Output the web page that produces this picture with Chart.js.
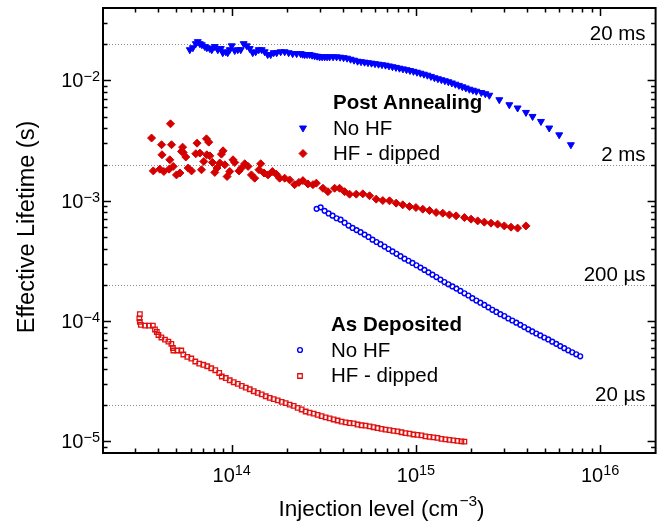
<!DOCTYPE html>
<html><head><meta charset="utf-8">
<script src="https://cdn.jsdelivr.net/npm/chart.js@4/dist/chart.umd.min.js"></script>
<style>html,body{margin:0;padding:0;background:#fff;}#wrap{width:661px;height:528px;}</style>
</head><body><div id="wrap"><canvas id="c" width="661" height="528"></canvas></div>
<script>
const FONT = "'Liberation Sans', Arial, sans-serif";

// Post Annealing - No HF (filled blue down-triangles)
const paNoHfX = [
  5.92e13, 6.15e13, 6.38e13, 6.54e13, 6.71e13, 6.88e13, 7.14e13, 7.32e13, 7.60e13, 7.79e13,
  8.09e13, 8.40e13, 8.72e13, 8.94e13, 9.28e13, 9.51e13, 9.75e13,
  1.00e14, 1.038e14, 1.078e14, 1.119e14, 1.161e14, 1.206e14, 1.252e14, 1.300e14, 1.349e14, 1.401e14,
  1.454e14, 1.510e14, 1.567e14, 1.627e14, 1.689e14, 1.754e14, 1.843e14, 1.938e14,
  2.037e14, 2.141e14, 2.251e14, 2.366e14, 2.426e14, 2.487e14, 2.566e14, 2.647e14, 2.731e14, 2.818e14,
  2.907e14, 2.999e14, 3.094e14, 3.192e14, 3.293e14, 3.398e14,
  3.550e14, 3.708e14, 3.874e14, 4.046e14, 4.227e14, 4.416e14, 4.613e14, 4.819e14, 5.034e14, 5.259e14,
  5.493e14, 5.738e14, 5.995e14, 6.262e14, 6.542e14, 6.835e14, 7.140e14, 7.458e14, 7.791e14, 8.140e14,
  8.503e14, 8.883e14, 9.280e14, 9.692e14,
  1.013e15, 1.058e15, 1.105e15, 1.154e15, 1.206e15, 1.260e15, 1.316e15, 1.375e15, 1.436e15, 1.500e15,
  1.567e15, 1.637e15, 1.711e15, 1.786e15, 1.866e15, 1.950e15, 2.037e15, 2.128e15,
  2.265e15, 2.381e15, 2.502e15, 2.835e15, 3.212e15, 3.563e15, 3.957e15, 4.297e15, 4.771e15, 5.291e15,
  5.994e15, 6.937e15
];
const paNoHfY = [
  0.0180, 0.0187, 0.0202, 0.0210, 0.0202, 0.0198, 0.0191, 0.0187, 0.0184, 0.0180,
  0.0191, 0.0180, 0.0184, 0.0170, 0.0173, 0.0170, 0.0180,
  0.0194, 0.0177, 0.0180, 0.0180, 0.0202, 0.0194, 0.0184, 0.0170, 0.0173, 0.0180,
  0.0180, 0.0173, 0.0164, 0.0164, 0.0170, 0.0170, 0.0173, 0.0173,
  0.0170, 0.0167, 0.0167, 0.0167, 0.0165, 0.0164, 0.0164, 0.0164, 0.0162, 0.0160,
  0.0159, 0.0157, 0.0157, 0.0157, 0.0157, 0.0157,
  0.0157, 0.0157, 0.0156, 0.01545, 0.0153, 0.0150, 0.01473, 0.01445, 0.01431, 0.01418,
  0.01404, 0.01391, 0.01377, 0.01364, 0.01351, 0.01338, 0.01320, 0.01300, 0.01283, 0.01264,
  0.01247, 0.01228, 0.01209, 0.01190,
  0.01170, 0.01148, 0.01126, 0.01105, 0.01080, 0.01053, 0.01033, 0.01013, 0.00994, 0.00975,
  0.00953, 0.00930, 0.00909, 0.00886, 0.00866, 0.00845, 0.00829, 0.00813,
  0.00793, 0.00775, 0.00753, 0.00691, 0.00628, 0.00590, 0.00542, 0.00502, 0.00456, 0.00402,
  0.00353, 0.00292
];

// Post Annealing - HF dipped (filled red diamonds)
const paHfX = [
  3.67e13, 3.75e13, 4.07e13, 4.16e13, 4.18e13, 4.28e13, 4.57e13, 4.61e13, 4.65e13, 4.71e13,
  4.81e13, 5.01e13, 5.23e13, 5.34e13, 5.41e13, 5.45e13, 5.63e13, 5.80e13, 6.05e13, 6.38e13,
  6.48e13, 6.71e13, 6.85e13, 7.05e13, 7.29e13, 7.32e13, 7.50e13, 7.60e13, 7.86e13, 8.09e13,
  8.32e13, 8.61e13, 8.79e13, 8.97e13, 9.17e13, 9.43e13, 9.75e13, 1.016e14, 1.038e14, 1.095e14,
  1.129e14, 1.176e14, 1.226e14, 1.279e14, 1.332e14, 1.406e14, 1.436e14, 1.497e14, 1.573e14, 1.662e14,
  1.747e14, 1.820e14, 1.938e14, 2.062e14, 2.195e14, 2.316e14, 2.434e14, 2.592e14, 2.759e14, 2.878e14,
  3.126e14, 3.327e14, 3.617e14, 3.849e14, 4.098e14, 4.361e14, 4.743e14, 5.149e14, 5.598e14, 6.085e14,
  6.608e14, 7.185e14, 7.810e14, 8.480e14, 9.220e14, 1.000e15, 1.089e15, 1.184e15, 1.287e15, 1.398e15,
  1.519e15, 1.652e15, 1.832e15, 1.992e15, 2.163e15, 2.351e15, 2.556e15, 2.776e15, 3.018e15, 3.281e15,
  3.563e15, 3.957e15
];
const paHfY = [
  3.32e-3, 1.77e-3, 1.83e-3, 2.92e-3, 2.41e-3, 1.75e-3, 1.83e-3, 2.19e-3, 4.36e-3, 2.92e-3,
  1.93e-3, 1.64e-3, 1.70e-3, 2.57e-3, 2.79e-3, 2.52e-3, 2.31e-3, 1.87e-3, 1.77e-3, 2.46e-3,
  3.01e-3, 2.49e-3, 1.81e-3, 2.12e-3, 3.27e-3, 2.41e-3, 3.07e-3, 2.36e-3, 2.08e-3, 1.72e-3,
  1.87e-3, 2.06e-3, 2.44e-3, 2.60e-3, 1.99e-3, 1.59e-3, 1.75e-3, 2.19e-3, 2.08e-3, 1.77e-3,
  1.87e-3, 2.03e-3, 1.93e-3, 1.64e-3, 1.54e-3, 1.81e-3, 2.03e-3, 1.70e-3, 1.64e-3, 1.75e-3,
  1.66e-3, 1.54e-3, 1.54e-3, 1.49e-3, 1.36e-3, 1.42e-3, 1.47e-3, 1.38e-3, 1.36e-3, 1.40e-3,
  1.27e-3, 1.19e-3, 1.27e-3, 1.27e-3, 1.19e-3, 1.134e-3, 1.134e-3, 1.141e-3, 1.10e-3, 1.031e-3,
  1.004e-3, 9.98e-4, 9.55e-4, 9.25e-4, 8.95e-4, 8.78e-4, 8.51e-4, 8.29e-4, 7.98e-4, 7.88e-4,
  7.63e-4, 7.49e-4, 7.25e-4, 7.03e-4, 6.80e-4, 6.64e-4, 6.51e-4, 6.39e-4, 6.18e-4, 6.03e-4,
  5.92e-4, 6.18e-4
];

// As Deposited - No HF (open blue circles)
const adNoHfX = [
  2.889e14, 3.037e14, 3.192e14, 3.356e14, 3.527e14, 3.708e14, 3.898e14, 4.098e14, 4.306e14, 4.527e14,
  4.759e14, 5.003e14, 5.259e14, 5.527e14, 5.810e14, 6.108e14, 6.421e14, 6.750e14, 7.094e14, 7.458e14,
  7.840e14, 8.241e14, 8.664e14, 9.107e14, 9.572e14, 1.006e15, 1.058e15, 1.112e15, 1.169e15, 1.229e15,
  1.291e15, 1.358e15, 1.427e15, 1.500e15, 1.577e15, 1.658e15, 1.743e15, 1.832e15, 1.926e15, 2.024e15,
  2.128e15, 2.237e15, 2.351e15, 2.472e15, 2.598e15, 2.731e15, 2.871e15, 3.018e15, 3.172e15, 3.334e15,
  3.505e15, 3.685e15, 3.873e15, 4.072e15, 4.280e15, 4.499e15, 4.730e15, 4.972e15, 5.226e15, 5.494e15,
  5.775e15, 6.071e15, 6.382e15, 6.708e15, 7.052e15, 7.413e15, 7.792e15
];
const adNoHfY = [
  8.56e-4, 8.81e-4, 8.24e-4, 7.84e-4, 7.52e-4, 7.15e-4, 6.96e-4, 6.57e-4, 6.22e-4, 5.94e-4,
  5.70e-4, 5.48e-4, 5.23e-4, 5.00e-4, 4.75e-4, 4.54e-4, 4.35e-4, 4.16e-4, 3.97e-4, 3.79e-4,
  3.62e-4, 3.46e-4, 3.30e-4, 3.17e-4, 3.04e-4, 2.91e-4, 2.78e-4, 2.66e-4, 2.54e-4, 2.43e-4,
  2.32e-4, 2.21e-4, 2.11e-4, 2.02e-4, 1.94e-4, 1.86e-4, 1.78e-4, 1.70e-4, 1.63e-4, 1.55e-4,
  1.48e-4, 1.42e-4, 1.36e-4, 1.30e-4, 1.24e-4, 1.19e-4, 1.14e-4, 1.10e-4, 1.05e-4, 1.01e-4,
  9.70e-5, 9.30e-5, 8.91e-5, 8.53e-5, 8.19e-5, 7.88e-5, 7.59e-5, 7.30e-5, 7.03e-5, 6.74e-5,
  6.46e-5, 6.19e-5, 5.95e-5, 5.71e-5, 5.50e-5, 5.29e-5, 5.09e-5
];

// As Deposited - HF dipped (open red squares)
const adHfX = [
  3.17e13, 3.15e13, 3.17e13, 3.21e13, 3.38e13, 3.55e13, 3.73e13, 3.83e13, 3.92e13, 4.00e13,
  4.15e13, 4.34e13, 4.53e13, 4.70e13, 4.79e13, 4.82e13, 5.07e13, 5.32e13, 5.46e13, 5.74e13,
  6.03e13, 6.34e13, 6.66e13, 7.01e13, 7.36e13, 7.74e13, 8.14e13, 8.55e13, 8.83e13, 9.28e13,
  9.75e13, 1.025e14, 1.078e14, 1.133e14, 1.191e14, 1.252e14, 1.316e14, 1.383e14, 1.454e14, 1.529e14,
  1.607e14, 1.689e14, 1.776e14, 1.866e14, 1.962e14, 2.062e14, 2.168e14, 2.279e14, 2.396e14, 2.518e14,
  2.647e14, 2.783e14, 2.925e14, 3.075e14, 3.232e14, 3.398e14, 3.572e14, 3.755e14, 3.947e14, 4.149e14,
  4.361e14, 4.585e14, 4.819e14, 5.066e14, 5.326e14, 5.598e14, 5.885e14, 6.186e14, 6.502e14, 6.835e14,
  7.185e14, 7.551e14, 7.938e14, 8.345e14, 8.772e14, 9.222e14, 9.692e14, 1.019e15, 1.071e15, 1.126e15,
  1.184e15, 1.244e15, 1.308e15, 1.375e15, 1.445e15, 1.519e15, 1.597e15, 1.679e15, 1.765e15, 1.832e15
];
const adHfY = [
  1.139e-4, 1.051e-4, 9.83e-5, 9.28e-5, 9.16e-5, 9.16e-5, 9.16e-5, 8.51e-5, 8.11e-5, 7.66e-5,
  7.30e-5, 7.00e-5, 6.74e-5, 6.45e-5, 5.97e-5, 5.69e-5, 5.69e-5, 5.69e-5, 5.27e-5, 5.03e-5,
  4.88e-5, 4.61e-5, 4.42e-5, 4.33e-5, 4.21e-5, 4.05e-5, 3.90e-5, 3.70e-5, 3.46e-5, 3.36e-5,
  3.22e-5, 3.10e-5, 3.00e-5, 2.89e-5, 2.80e-5, 2.71e-5, 2.61e-5, 2.53e-5, 2.46e-5, 2.37e-5,
  2.30e-5, 2.24e-5, 2.19e-5, 2.13e-5, 2.08e-5, 2.02e-5, 1.97e-5, 1.90e-5, 1.84e-5, 1.77e-5,
  1.73e-5, 1.70e-5, 1.66e-5, 1.62e-5, 1.58e-5, 1.55e-5, 1.52e-5, 1.49e-5, 1.46e-5, 1.44e-5,
  1.42e-5, 1.41e-5, 1.38e-5, 1.36e-5, 1.35e-5, 1.33e-5, 1.31e-5, 1.29e-5, 1.27e-5, 1.25e-5,
  1.24e-5, 1.22e-5, 1.21e-5, 1.19e-5, 1.17e-5, 1.16e-5, 1.14e-5, 1.13e-5, 1.12e-5, 1.10e-5,
  1.09e-5, 1.08e-5, 1.07e-5, 1.05e-5, 1.04e-5, 1.03e-5, 1.02e-5, 1.01e-5, 1.00e-5, 9.94e-6
];

const xMajorTicks = [1e14, 1e15, 1e16];
const xTickExp = ['14', '15', '16'];
const yMajorTicks = [1e-2, 1e-3, 1e-4, 1e-5];
const yTickExp = ['\u22122', '\u22123', '\u22124', '\u22125'];
const refLines = [2e-2, 2e-3, 2e-4, 2e-5];
const refLabels = ['20 ms', '2 ms', '200 \u00B5s', '20 \u00B5s'];

const BLUE = '#0000FF', RED = '#D40000', RED2 = '#E01010';

function zip(xs, ys) { return xs.map((x, i) => ({ x: x, y: ys[i] })); }

function supText(ctx, base, sup, x, y, align, bs, ss, rise) {
  ctx.font = bs + 'px ' + FONT; const wb = ctx.measureText(base).width;
  ctx.font = ss + 'px ' + FONT; const ws = ctx.measureText(sup).width;
  let x0 = align === 'right' ? x - wb - ws : (align === 'center' ? x - (wb + ws) / 2 : x);
  ctx.textAlign = 'left'; ctx.textBaseline = 'alphabetic';
  ctx.font = bs + 'px ' + FONT; ctx.fillText(base, x0, y);
  ctx.font = ss + 'px ' + FONT; ctx.fillText(sup, x0 + wb, y - rise);
  return x0 + wb + ws;
}

function marker(ctx, style, x, y, r, fill, stroke, rot, bw) {
  ctx.save();
  ctx.fillStyle = fill; ctx.strokeStyle = stroke; ctx.lineWidth = bw;
  Chart.helpers.drawPoint(ctx, { pointStyle: style, radius: r, rotation: rot || 0, borderWidth: bw }, x, y);
  ctx.restore();
}

const overlay = {
  id: 'overlay',
  beforeDatasetsDraw(chart) {
    const { ctx, chartArea: a, scales: { y: ys } } = chart;
    ctx.save();
    ctx.strokeStyle = '#8a8a8a'; ctx.lineWidth = 1; ctx.setLineDash([1, 2]);
    refLines.forEach(v => {
      const py = Math.round(ys.getPixelForValue(v)) + 0.5;
      ctx.beginPath(); ctx.moveTo(a.left, py); ctx.lineTo(a.right, py); ctx.stroke();
    });
    ctx.setLineDash([]);
    ctx.fillStyle = '#000'; ctx.font = '20.5px ' + FONT; ctx.textAlign = 'right'; ctx.textBaseline = 'alphabetic';
    refLines.forEach((v, i) => {
      const py = ys.getPixelForValue(v);
      ctx.fillText(refLabels[i], a.right - 10, py - 4);
    });
    ctx.restore();
  },
  afterDatasetsDraw(chart) {
    const { ctx, chartArea: a, scales: { x: xs, y: ys } } = chart;
    ctx.save();
    // frame
    ctx.strokeStyle = '#000'; ctx.lineWidth = 2;
    ctx.strokeRect(a.left, a.top, a.right - a.left, a.bottom - a.top);
    // ticks (inward)
    ctx.lineWidth = 1.5;
    for (let d = 1e13; d <= 1e16; d *= 10) {
      for (let m = 1; m <= 9; m++) {
        const v = m * d;
        if (v < xs.min * 1.0001 || v > xs.max * 0.9999) continue;
        const px = Math.round(xs.getPixelForValue(v)) + 0.5;
        const len = m === 1 ? 8 : 4.5;
        ctx.beginPath();
        ctx.moveTo(px, a.bottom); ctx.lineTo(px, a.bottom - len);
        ctx.moveTo(px, a.top); ctx.lineTo(px, a.top + len);
        ctx.stroke();
      }
    }
    for (let d = 1e-6; d <= 1e-2 * 1.001; d *= 10) {
      for (let m = 1; m <= 9; m++) {
        const v = m * d;
        if (v < ys.min * 1.0001 || v > ys.max * 0.9999) continue;
        const py = Math.round(ys.getPixelForValue(v)) + 0.5;
        const len = m === 1 ? 8 : 4.5;
        ctx.beginPath();
        ctx.moveTo(a.left, py); ctx.lineTo(a.left + len, py);
        ctx.moveTo(a.right, py); ctx.lineTo(a.right - len, py);
        ctx.stroke();
      }
    }
    // tick labels
    ctx.fillStyle = '#000';
    xMajorTicks.forEach((v, i) => {
      const px = xs.getPixelForValue(v);
      supText(ctx, '10', xTickExp[i], px, 482, 'center', 20, 14.5, 7.5);
    });
    yMajorTicks.forEach((v, i) => {
      const py = ys.getPixelForValue(v);
      supText(ctx, '10', yTickExp[i], 100, py + 7, 'right', 20, 14.5, 6);
    });
    // axis titles
    const t1 = 'Injection level (cm', t2 = '\u22123', t3 = ')';
    ctx.font = '22.5px ' + FONT; const w1 = ctx.measureText(t1).width, w3 = ctx.measureText(t3).width;
    ctx.font = '15.5px ' + FONT; const w2 = ctx.measureText(t2).width;
    let x0 = 381 - (w1 + w2 + w3) / 2;
    ctx.textAlign = 'left'; ctx.textBaseline = 'alphabetic';
    ctx.font = '22.5px ' + FONT; ctx.fillText(t1, x0, 515.5);
    ctx.font = '15.5px ' + FONT; ctx.fillText(t2, x0 + w1 + 1, 506);
    ctx.font = '22.5px ' + FONT; ctx.fillText(t3, x0 + w1 + w2 + 1, 515.5);
    ctx.save();
    ctx.translate(34, 227); ctx.rotate(-Math.PI / 2);
    ctx.textAlign = 'center'; ctx.textBaseline = 'alphabetic'; ctx.font = '23.5px ' + FONT;
    ctx.fillText('Effective Lifetime (s)', 0, 0);
    ctx.restore();
    // legends
    ctx.textAlign = 'left'; ctx.textBaseline = 'alphabetic'; ctx.fillStyle = '#000';
    ctx.font = 'bold 20.5px ' + FONT; ctx.fillText('Post Annealing', 333, 109);
    ctx.font = '20.5px ' + FONT; ctx.fillText('No HF', 333, 134.5); ctx.fillText('HF - dipped', 333, 160);
    marker(ctx, 'triangle', 303, 128, 4, BLUE, BLUE, 180, 1);
    marker(ctx, 'rectRot', 303, 153.5, 4, RED, RED, 0, 1);
    ctx.fillStyle = '#000';
    ctx.font = 'bold 20.5px ' + FONT; ctx.fillText('As Deposited', 331, 331);
    ctx.font = '20.5px ' + FONT; ctx.fillText('No HF', 331, 357); ctx.fillText('HF - dipped', 331, 382);
    marker(ctx, 'circle', 300, 350, 2.4, 'rgba(255,255,255,0)', BLUE, 0, 1.4);
    marker(ctx, 'rect', 300, 376, 3.2, 'rgba(255,255,255,0)', RED2, 0, 1.3);
    ctx.restore();
  }
};

new Chart(document.getElementById('c'), {
  type: 'scatter',
  data: {
    datasets: [
      { label: 'Post Annealing No HF', data: zip(paNoHfX, paNoHfY), pointStyle: 'triangle', rotation: 180,
        pointRadius: 4, backgroundColor: BLUE, borderColor: BLUE, borderWidth: 1 },
      { label: 'Post Annealing HF - dipped', data: zip(paHfX, paHfY), pointStyle: 'rectRot',
        pointRadius: 4, backgroundColor: RED, borderColor: RED, borderWidth: 1 },
      { label: 'As Deposited No HF', data: zip(adNoHfX, adNoHfY), pointStyle: 'circle',
        pointRadius: 2.4, backgroundColor: 'rgba(255,255,255,0)', borderColor: BLUE, borderWidth: 1.4 },
      { label: 'As Deposited HF - dipped', data: zip(adHfX, adHfY), pointStyle: 'rect',
        pointRadius: 3.2, backgroundColor: 'rgba(255,255,255,0)', borderColor: RED2, borderWidth: 1.3 }
    ]
  },
  options: {
    responsive: false, animation: false, devicePixelRatio: 1,
    layout: { padding: { left: 103, right: 5, top: 8, bottom: 75 } },
    plugins: { legend: { display: false }, tooltip: { enabled: false } },
    scales: {
      x: { type: 'logarithmic', min: 2e13, max: 2e16, display: false },
      y: { type: 'logarithmic', min: 8e-6, max: 4e-2, display: false }
    }
  },
  plugins: [overlay]
});
</script>
</body></html>
